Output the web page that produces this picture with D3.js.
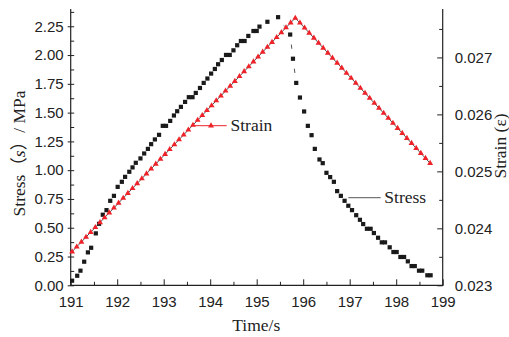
<!DOCTYPE html>
<html>
<head>
<meta charset="utf-8">
<script src="https://cdn.jsdelivr.net/npm/d3@7"></script>
<style>
  html, body { margin: 0; padding: 0; background: #fff; }
  svg { display: block; }
</style>
</head>
<body>
<svg id="chart" width="509" height="337"></svg>
<script>
// Stress samples (time in s, stress in MPa)
const stressTime = [
  191.03, 191.14, 191.21, 191.29, 191.37, 191.44, 191.54, 191.61, 191.69, 191.77,
  191.85, 191.93, 192.01, 192.10, 192.17, 192.26, 192.33, 192.40, 192.50, 192.58,
  192.66, 192.73, 192.81, 192.90, 192.98, 193.05, 193.14, 193.22, 193.29, 193.37,
  193.46, 193.54, 193.62, 193.69, 193.78, 193.86, 193.94, 194.02, 194.10, 194.17,
  194.25, 194.34, 194.42, 194.50, 194.58, 194.66, 194.74, 194.82, 194.93, 195.00,
  195.06, 195.23, 195.46, 195.72, 195.78, 195.85, 195.93, 196.02, 196.10, 196.18,
  196.25, 196.35, 196.42, 196.50, 196.58, 196.66, 196.73, 196.81, 196.89, 196.97,
  197.05, 197.14, 197.22, 197.29, 197.37, 197.45, 197.52, 197.61, 197.69, 197.76,
  197.86, 197.94, 198.01, 198.09, 198.17, 198.25, 198.33, 198.40, 198.49, 198.56,
  198.67, 198.74
];
const stressValue = [
  0.040, 0.083, 0.127, 0.205, 0.286, 0.326, 0.451, 0.534, 0.613, 0.653,
  0.734, 0.777, 0.855, 0.899, 0.942, 0.986, 1.024, 1.064, 1.102, 1.145,
  1.185, 1.226, 1.267, 1.307, 1.385, 1.385, 1.428, 1.475, 1.512, 1.550,
  1.593, 1.634, 1.634, 1.671, 1.714, 1.758, 1.796, 1.839, 1.879, 1.920,
  1.957, 2.001, 2.001, 2.041, 2.085, 2.122, 2.122, 2.166, 2.209, 2.209,
  2.247, 2.289, 2.329, 2.178, 1.968, 1.758, 1.631, 1.510, 1.385, 1.304,
  1.185, 1.093, 1.061, 0.977, 0.940, 0.899, 0.818, 0.777, 0.734, 0.691,
  0.653, 0.609, 0.569, 0.532, 0.491, 0.491, 0.454, 0.413, 0.373, 0.373,
  0.330, 0.289, 0.289, 0.246, 0.246, 0.208, 0.167, 0.167, 0.127, 0.127,
  0.087, 0.087
];

// Strain samples (time in s, strain)
const strainTime = [
  191.03, 191.13, 191.23, 191.33, 191.43, 191.53, 191.63, 191.73, 191.83, 191.93,
  192.03, 192.13, 192.23, 192.33, 192.43, 192.53, 192.63, 192.73, 192.83, 192.93,
  193.03, 193.13, 193.23, 193.33, 193.43, 193.53, 193.63, 193.73, 193.83, 193.93,
  194.03, 194.13, 194.23, 194.33, 194.43, 194.53, 194.63, 194.73, 194.83, 194.93,
  195.03, 195.13, 195.23, 195.33, 195.43, 195.53, 195.63, 195.73, 195.83, 195.93,
  196.03, 196.13, 196.23, 196.33, 196.43, 196.53, 196.63, 196.73, 196.83, 196.93,
  197.03, 197.13, 197.23, 197.33, 197.43, 197.53, 197.63, 197.73, 197.83, 197.93,
  198.03, 198.13, 198.23, 198.33, 198.43, 198.53, 198.63, 198.73
];
const strainValue = [
  0.023590, 0.023676, 0.023761, 0.023847, 0.023932, 0.024018, 0.024103, 0.024189, 0.024274, 0.024360,
  0.024445, 0.024531, 0.024616, 0.024702, 0.024787, 0.024873, 0.024958, 0.025044, 0.025129, 0.025215,
  0.025300, 0.025386, 0.025471, 0.025557, 0.025642, 0.025728, 0.025813, 0.025899, 0.025984, 0.026070,
  0.026155, 0.026241, 0.026326, 0.026412, 0.026497, 0.026583, 0.026668, 0.026754, 0.026839, 0.026925,
  0.027010, 0.027096, 0.027181, 0.027267, 0.027352, 0.027438, 0.027523, 0.027609, 0.027690, 0.027606,
  0.027518, 0.027430, 0.027342, 0.027254, 0.027166, 0.027078, 0.026990, 0.026902, 0.026814, 0.026726,
  0.026638, 0.026550, 0.026462, 0.026374, 0.026286, 0.026198, 0.026110, 0.026022, 0.025934, 0.025846,
  0.025758, 0.025670, 0.025582, 0.025494, 0.025406, 0.025318, 0.025230, 0.025142
];

// Axis ticks
const timeTicks = [191, 192, 193, 194, 195, 196, 197, 198, 199];
const timeMinor = [191.5, 192.5, 193.5, 194.5, 195.5, 196.5, 197.5, 198.5];
const stressTicks = [0, 0.25, 0.5, 0.75, 1.0, 1.25, 1.5, 1.75, 2.0, 2.25];
const stressMinor = [0.125, 0.375, 0.625, 0.875, 1.125, 1.375, 1.625, 1.875, 2.125, 2.375];
const strainTicks = [0.023, 0.024, 0.025, 0.026, 0.027];
const strainMinor = [0.0235, 0.0245, 0.0255, 0.0265, 0.0275];

const svg = d3.select("#chart");
const plotLeft = 70.7, plotRight = 442.7, plotTop = 9, plotBottom = 285.3;

const x = d3.scaleLinear().domain([191, 199]).range([plotLeft, plotRight]);
const yS = d3.scaleLinear().domain([0, 2.4]).range([plotBottom, plotTop]);
const yE = d3.scaleLinear().domain([0.023, 0.02785]).range([plotBottom, plotTop]);

const sans = "'Liberation Sans', Arial, sans-serif";
const serif = "'Liberation Serif', 'Times New Roman', serif";
const ink = "#222";
const red = "#ee2228";
const serifSize = "17.5px";

// ---- axes ----
function styleAxis(g) {
  g.select(".domain").remove();
  g.selectAll("line").attr("stroke", ink).attr("stroke-width", 1);
  g.selectAll("text").attr("fill", ink).style("font-family", sans).style("font-size", "15px");
}

// bottom
const gx = svg.append("g").attr("transform", `translate(0,${plotBottom})`)
  .call(d3.axisBottom(x).tickValues(timeTicks).tickFormat(d3.format("d"))
        .tickSizeInner(-6).tickSizeOuter(0).tickPadding(11));
styleAxis(gx);
gx.selectAll("text").attr("dy", "0.71em");
svg.append("g").attr("transform", `translate(0,${plotBottom})`)
  .call(d3.axisBottom(x).tickValues(timeMinor).tickFormat("").tickSizeInner(-3.5).tickSizeOuter(0))
  .call(styleAxis);

// left
const gl = svg.append("g").attr("transform", `translate(${plotLeft},0)`)
  .call(d3.axisLeft(yS).tickValues(stressTicks).tickFormat(d3.format(".2f"))
        .tickSizeInner(3).tickSizeOuter(0).tickPadding(4));
styleAxis(gl);
gl.selectAll(".tick line").attr("x1", 3.5).attr("x2", -3);
svg.append("g").attr("transform", `translate(${plotLeft},0)`)
  .call(d3.axisLeft(yS).tickValues(stressMinor).tickFormat("").tickSizeInner(-3.5).tickSizeOuter(0))
  .call(styleAxis);

// right
const gr = svg.append("g").attr("transform", `translate(${plotRight},0)`)
  .call(d3.axisRight(yE).tickValues(strainTicks).tickFormat(d3.format(".3f"))
        .tickSizeInner(-5.5).tickSizeOuter(0).tickPadding(12));
styleAxis(gr);
svg.append("g").attr("transform", `translate(${plotRight},0)`)
  .call(d3.axisRight(yE).tickValues(strainMinor).tickFormat("").tickSizeInner(-3.5).tickSizeOuter(0))
  .call(styleAxis);

// axis lines
svg.append("line").attr("x1", plotLeft).attr("x2", plotLeft).attr("y1", plotTop).attr("y2", plotBottom + 0.5)
  .attr("stroke", ink).attr("stroke-width", 1.2);
svg.append("line").attr("x1", plotRight).attr("x2", plotRight).attr("y1", plotTop).attr("y2", plotBottom + 0.5)
  .attr("stroke", ink).attr("stroke-width", 1.2);
svg.append("line").attr("x1", plotLeft - 0.6).attr("x2", plotRight + 0.6).attr("y1", plotBottom).attr("y2", plotBottom)
  .attr("stroke", ink).attr("stroke-width", 1.2);

// ---- stress: thin connecting line with gaps around symbols ----
const stressPts = stressTime.map((t, i) => [x(t), yS(stressValue[i])]);
const gap = 10;
const segs = [];
for (let i = 1; i < stressPts.length; i++) {
  const [x1, y1] = stressPts[i - 1], [x2, y2] = stressPts[i];
  const L = Math.hypot(x2 - x1, y2 - y1);
  if (L > 2 * gap) {
    const ux = (x2 - x1) / L, uy = (y2 - y1) / L;
    segs.push([x1 + ux * gap, y1 + uy * gap, x2 - ux * gap, y2 - uy * gap]);
  }
}
svg.append("g").selectAll("line").data(segs).join("line")
  .attr("x1", d => d[0]).attr("y1", d => d[1]).attr("x2", d => d[2]).attr("y2", d => d[3])
  .attr("stroke", "#555").attr("stroke-width", 1);

svg.append("g").selectAll("rect").data(stressPts).join("rect")
  .attr("x", d => d[0] - 2.1).attr("y", d => d[1] - 2.1)
  .attr("width", 4.2).attr("height", 4.2).attr("fill", "#1a1a1a");

// ---- strain: line with triangle symbols ----
const strainPts = strainTime.map((t, i) => [x(t), yE(strainValue[i])]);
svg.append("path").datum(strainPts)
  .attr("d", d3.line()).attr("fill", "none").attr("stroke", "#222").attr("stroke-width", 0.8);
const tri = d3.symbol().type(d3.symbolTriangle).size(15);
svg.append("g").selectAll("path").data(strainPts).join("path")
  .attr("transform", d => `translate(${d[0]},${d[1]})`)
  .attr("d", tri).attr("fill", red);

// ---- in-plot labels ----
svg.append("line").attr("x1", 193.3).attr("x2", 226.7).attr("y1", 125.7).attr("y2", 125.7)
  .attr("stroke", red).attr("stroke-width", 1);
svg.append("path").attr("transform", "translate(211,125.7)").attr("d", tri).attr("fill", red);
svg.append("text").attr("x", 230.5).attr("y", 130.8).text("Strain")
  .attr("fill", ink).style("font-family", serif).style("font-size", serifSize);

svg.append("line").attr("x1", 348.3).attr("x2", 380.7).attr("y1", 197.7).attr("y2", 197.7)
  .attr("stroke", "#777").attr("stroke-width", 1.2);
svg.append("text").attr("x", 384.3).attr("y", 203.2).text("Stress")
  .attr("fill", ink).style("font-family", serif).style("font-size", serifSize);

// ---- axis titles ----
svg.append("text").attr("x", 256.3).attr("y", 330.5).attr("text-anchor", "middle")
  .text("Time/s").attr("fill", ink).style("font-family", serif).style("font-size", serifSize);

const yt = svg.append("text").attr("transform", "translate(25,153.5) rotate(-90)")
  .attr("text-anchor", "middle").attr("fill", ink)
  .style("font-family", serif).style("font-size", serifSize);
yt.append("tspan").text("Stress");
yt.append("tspan").text("（").style("font-family", "'Noto Sans CJK SC', serif");
yt.append("tspan").text("s").style("font-style", "italic");
yt.append("tspan").text("）").style("font-family", "'Noto Sans CJK SC', serif");
yt.append("tspan").text("/ MPa");

svg.append("text").attr("transform", "translate(506,146) rotate(-90)")
  .attr("text-anchor", "middle").attr("fill", ink)
  .style("font-family", serif).style("font-size", serifSize).text("Strain (ε)");
</script>
</body>
</html>
